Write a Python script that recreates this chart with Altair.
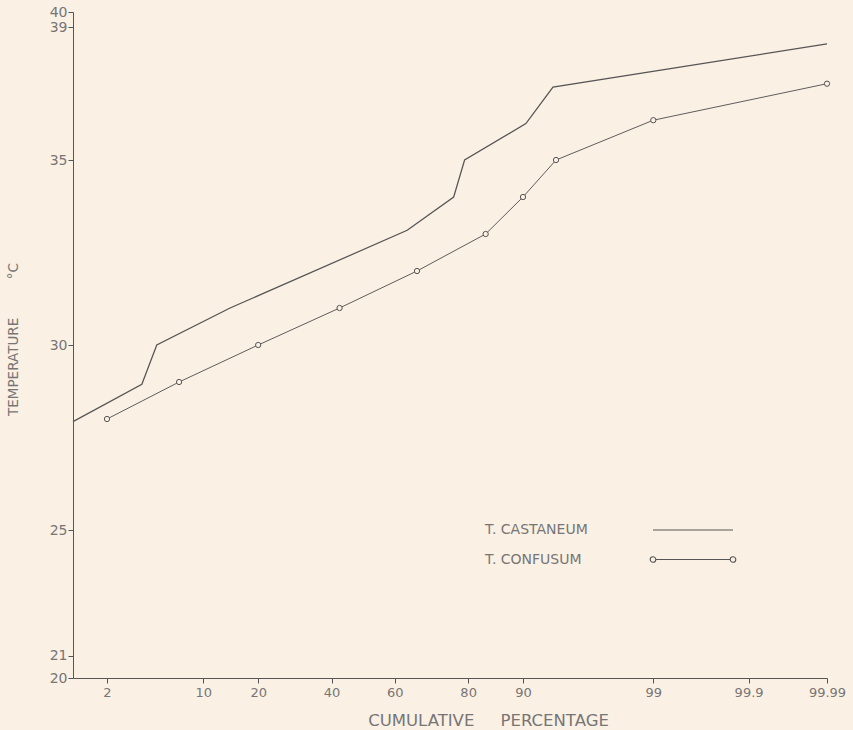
import altair as alt
import pandas as pd
from statistics import NormalDist

# ---------------- data ----------------
series_names = ["T. CASTANEUM", "T. CONFUSUM"]

castaneum_pct = [1.0, 3.8, 4.9, 14.3, 63.8, 76.6, 79.2, 90.4, 93.6, 99.99]
castaneum_temp = [27.93, 28.94, 30.0, 31.0, 33.1, 34.0, 35.0, 36.1, 37.2, 38.5]

confusum_pct = [2.0, 7.0, 20.0, 42.5, 66.7, 83.7, 90.0, 93.9, 99.0, 99.99]
confusum_temp = [28, 29, 30, 31, 32, 33, 34, 35, 36.2, 37.3]

x_tick_pct = [2, 10, 20, 40, 60, 80, 90, 99, 99.9, 99.99]
y_ticks = [20, 21, 25, 30, 35, 39, 40]
y_breaks = [20, 21, 25, 35, 39, 40]  # the drawn temperature axis is piecewise

# ---------------- styling ----------------
BG = "#fbf0e4"
INK = "#555555"
TEXT = "#767676"
FONT = "DejaVu Sans"
NB = "\u00a0"

W, H = 754, 666
nd = NormalDist()
def probit(p):
    return nd.inv_cdf(p / 100.0)

x_domain = [probit(1.0), probit(99.99)]
x_tick_vals = [probit(v) for v in x_tick_pct]
y_range = [666, 643.7, 518, 148, 15.3, 0]

rows = []
for i, (p, t) in enumerate(zip(castaneum_pct, castaneum_temp)):
    rows.append({"pct": p, "temp": t, "series": series_names[0], "order": i})
for i, (p, t) in enumerate(zip(confusum_pct, confusum_temp)):
    rows.append({"pct": p, "temp": t, "series": series_names[1], "order": i})
df = pd.DataFrame(rows)

x_enc = alt.X(
    "z:Q",
    scale=alt.Scale(domain=x_domain, nice=False, zero=False),
    axis=alt.Axis(
        values=x_tick_vals,
        labelExpr="format(round(cumulativeNormal(datum.value)*10000)/100, '~g')",
        title="CUMULATIVE" + NB * 5 + "PERCENTAGE",
        grid=False,
        labelFlush=False,
        labelOverlap=False,
        tickSize=5,
        labelPadding=3,
        titleX=415,
        titleY=42,
        titleBaseline="middle",
        titleFontSize=16.5,
    ),
)
y_enc = alt.Y(
    "temp:Q",
    scale=alt.Scale(domain=y_breaks, range=y_range, nice=False, zero=False),
    axis=alt.Axis(
        values=y_ticks,
        title="TEMPERATURE" + NB * 9 + "°C",
        grid=False,
        labelOverlap=False,
        tickSize=5,
        labelPadding=1,
        titleX=-60,
        titleY=327,
        titleBaseline="middle",
        titleFontSize=13.5,
    ),
)

# legend keys: drawn to the right of their labels (path units x4 = pixels)
castaneum_path = "M43.75,0H63.75"
confusum_path = ("M44.45,0H63.05"
                 "M43.05,0A0.7,0.7 0 1,0 44.45,0A0.7,0.7 0 1,0 43.05,0"
                 "M63.05,0A0.7,0.7 0 1,0 64.45,0A0.7,0.7 0 1,0 63.05,0")

base = alt.Chart(df).transform_calculate(z="quantileNormal(datum.pct / 100)")

line_cast = base.transform_filter(alt.datum.series == series_names[0]).mark_line(
    stroke=INK, strokeWidth=1.25
).encode(x=x_enc, y=y_enc, order="order:Q")

line_conf = base.transform_filter(alt.datum.series == series_names[1]).mark_line(
    stroke=INK, strokeWidth=0.95
).encode(x=x_enc, y=y_enc, order="order:Q")

points = base.transform_filter(
    alt.datum.series == series_names[1]
).mark_point(shape="circle", filled=True, fill=BG, stroke=INK, strokeWidth=1, size=28, opacity=1).encode(
    x=x_enc,
    y=y_enc,
)

# layer that draws no marks (its rows are filtered out) and only carries the legend
legend_layer = base.transform_filter("false").mark_point(
    filled=False, color=INK, strokeWidth=1.1, opacity=1
).encode(
    x=x_enc,
    y=y_enc,
    shape=alt.Shape(
        "series:N",
        scale=alt.Scale(domain=series_names, range=[castaneum_path, confusum_path]),
        legend=alt.Legend(
            orient="none",
            legendX=398,
            legendY=511,
            title=None,
            padding=0,
            symbolSize=64,
            symbolStrokeWidth=1.1,
            symbolStrokeColor=INK,
            symbolOpacity=1,
            rowPadding=15.5,
            labelOffset=0,
            labelAlign="left",
            labelFont=FONT,
            labelFontSize=14,
            labelColor=TEXT,
            labelLimit=300,
        ),
    ),
)

chart = alt.layer(line_cast, line_conf, points, legend_layer).properties(
    width=W,
    height=H,
    background=BG,
    padding={"left": 73, "top": 12, "right": 26, "bottom": 52},
    autosize=alt.AutoSizeParams(type="none"),
).configure_view(stroke=None).configure_axis(
    domainColor=INK,
    tickColor=INK,
    domainWidth=1,
    tickWidth=1,
    labelFont=FONT,
    labelFontSize=13,
    labelColor=TEXT,
    titleFont=FONT,
    titleFontWeight="normal",
    titleColor=TEXT,
).configure_axisY(labelFontSize=14)

chart.save("out.html", embed_options={"renderer": "svg", "actions": False})
